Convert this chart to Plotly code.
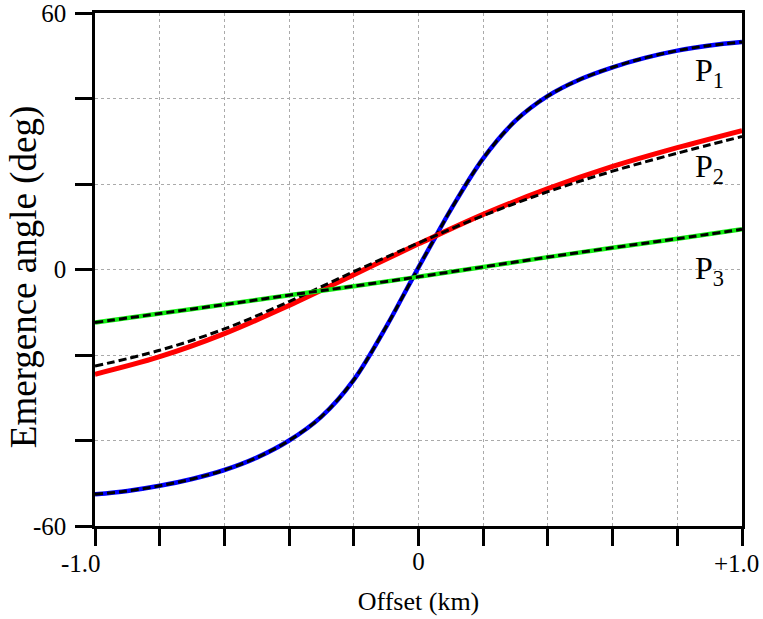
import plotly.graph_objects as go

offset_km = [-1.0, -0.9, -0.8, -0.7, -0.6, -0.5, -0.4, -0.3, -0.2, -0.1, -0.05, 0.0,
             0.05, 0.1, 0.2, 0.3, 0.4, 0.5, 0.6, 0.7, 0.8, 0.9, 1.0]
p1_angle = [-52.6, -51.8, -50.6, -49.0, -46.9, -44.0, -40.0, -34.4, -25.8, -13.4, -6.5, 0.5,
            7.3, 14.0, 26.0, 34.8, 40.6, 44.5, 47.3, 49.5, 51.2, 52.4, 53.2]

offset2_km = [-1.0, -0.8, -0.6, -0.4, -0.2, 0.0, 0.2, 0.4, 0.6, 0.8, 1.0]
p2_angle = [-24.5, -20.4, -15.0, -8.4, -1.2, 6.0, 12.9, 18.9, 24.1, 28.5, 32.5]
p2_approx = [-22.6, -18.9, -13.9, -7.5, -0.5, 6.2, 12.6, 18.2, 23.0, 27.2, 31.1]
p3_angle = [-12.4, -10.3, -8.2, -6.0, -3.9, -1.7, 0.6, 2.9, 5.1, 7.2, 9.4]

x_tickvals = [-1.0, -0.8, -0.6, -0.4, -0.2, 0.0, 0.2, 0.4, 0.6, 0.8, 1.0]
x_ticktext = ["", "", "", "", "", "0", "", "", "", "", ""]
x_end_labels = ["-1.0", "+1.0"]
x_end_vals = [-1.0, 1.0]
x_end_shift = [8, 19]
y_tickvals = [-60, -40, -20, 0, 20, 40, 60]
y_ticktext = ["-60", "", "", "0", "", "", "60"]

labels = ["P<sub>1</sub>", "P<sub>2</sub>", "P<sub>3</sub>"]
label_x = [0.85, 0.85, 0.85]
label_y = [46.0, 23.6, -0.2]

FONT = "Liberation Serif, Times New Roman, serif"
DASH = "8px,4px"

fig = go.Figure()
fig.add_trace(go.Scatter(x=offset_km, y=p1_angle, mode="lines",
                         line=dict(color="#0000ff", width=4.5, shape="spline")))
fig.add_trace(go.Scatter(x=offset_km, y=p1_angle, mode="lines",
                         line=dict(color="black", width=3, dash=DASH, shape="spline")))
fig.add_trace(go.Scatter(x=offset2_km, y=p2_angle, mode="lines",
                         line=dict(color="#ff0000", width=5, shape="spline")))
fig.add_trace(go.Scatter(x=offset2_km, y=p2_approx, mode="lines",
                         line=dict(color="black", width=3, dash=DASH, shape="spline")))
fig.add_trace(go.Scatter(x=offset2_km, y=p3_angle, mode="lines",
                         line=dict(color="#11ee11", width=4.5, shape="spline")))
fig.add_trace(go.Scatter(x=offset2_km, y=p3_angle, mode="lines",
                         line=dict(color="black", width=3, dash=DASH, shape="spline")))

for t, lx, ly in zip(labels, label_x, label_y):
    fig.add_annotation(x=lx, y=ly, text=t, showarrow=False, xanchor="left",
                       yanchor="middle", font=dict(family=FONT, size=32, color="black"))

# end tick labels of the offset axis, right-aligned so they stay inside the page
for t, xv, sh in zip(x_end_labels, x_end_vals, x_end_shift):
    fig.add_annotation(x=xv, xref="x", yref="paper", y=0, text=t, showarrow=False,
                       xanchor="right", yanchor="middle", xshift=sh, yshift=-37,
                       font=dict(family=FONT, size=25, color="black"))

# y-axis title as a rotated annotation, placed left of the tick labels
fig.add_annotation(xref="paper", yref="paper", x=-71 / 647, y=0.485,
                   text="Emergence angle (deg)", textangle=-90, showarrow=False,
                   xanchor="center", yanchor="middle",
                   font=dict(family=FONT, size=37, color="black"))

axis_common = dict(
    showline=True, linecolor="black", linewidth=2.5, mirror=True,
    ticks="outside", ticklen=17, tickwidth=2.5, tickcolor="black",
    showgrid=True, gridcolor="#aaaaaa", gridwidth=1, griddash="dot",
    zeroline=False, automargin=False, ticklabeloverflow="allow",
    tickfont=dict(family=FONT, size=25, color="black"),
)
fig.update_xaxes(range=[-1.0, 1.0], tickmode="array", tickvals=x_tickvals,
                 ticktext=x_ticktext, ticklabelstandoff=-6,
                 title=dict(text="Offset (km)", font=dict(family=FONT, size=26, color="black"),
                            standoff=19),
                 **axis_common)
fig.update_yaxes(range=[-60, 60], tickmode="array", tickvals=y_tickvals,
                 ticktext=y_ticktext, ticklabelstandoff=4,
                 **axis_common)

fig.update_layout(width=763, height=619, showlegend=False,
                  margin=dict(l=95, r=21, t=13, b=93),
                  paper_bgcolor="white", plot_bgcolor="white")
fig.write_html("out.html", config={"displayModeBar": False},
               post_script="document.body.style.margin='0';document.body.style.overflow='hidden';")
